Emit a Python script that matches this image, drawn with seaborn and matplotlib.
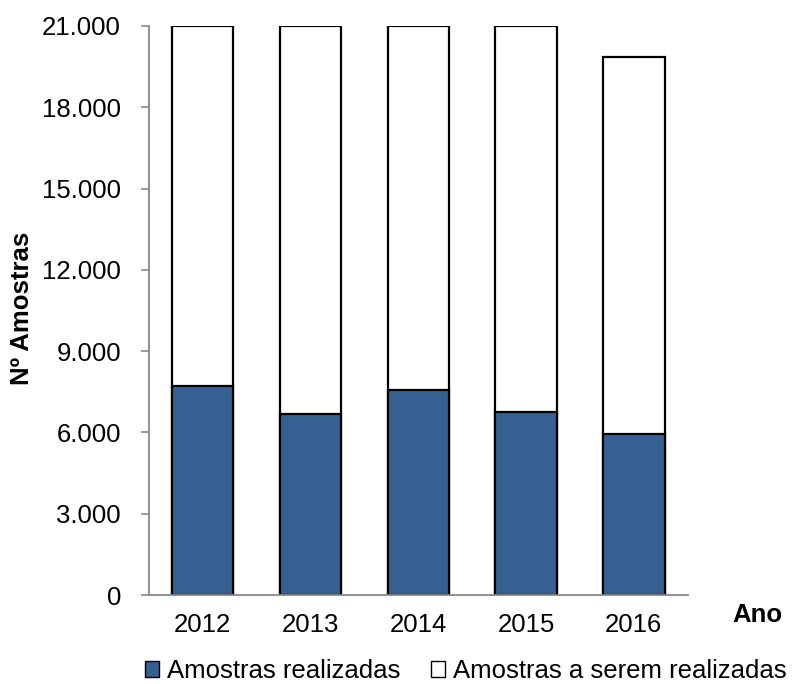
import seaborn as sns
import pandas as pd
import numpy as np
import matplotlib.pyplot as plt
from matplotlib.patches import Patch
from matplotlib.ticker import FuncFormatter

# Dados
anos = ["2012", "2013", "2014", "2015", "2016"]
realizadas = [7700, 6700, 7550, 6770, 5950]
a_realizar = [13300, 14300, 13450, 14230, 13900]

df = pd.DataFrame({"ano": anos, "realizadas": realizadas, "a_realizar": a_realizar})
df["total"] = df["realizadas"] + df["a_realizar"]

sns.set_style("white")
plt.rcParams["font.family"] = ["Liberation Sans", "DejaVu Sans"]
plt.rcParams["text.color"] = "black"
plt.rcParams["axes.labelcolor"] = "black"

azul = "#376092"
cinza = "#888888"
fs = 18.5

fig = plt.figure(figsize=(7.96, 6.84), dpi=100)
ax = fig.add_axes([0.187, 0.130, 0.677, 0.832])

# barra total (branca) e barra realizadas (azul) por cima
sns.barplot(data=df, x="ano", y="total", color="white", edgecolor="black",
            linewidth=1.6, width=0.57, saturation=1, ax=ax)
sns.barplot(data=df, x="ano", y="realizadas", color=azul, edgecolor="black",
            linewidth=1.6, width=0.57, saturation=1, ax=ax)

ax.set_ylim(0, 21000)
ax.set_xlim(-0.5, 4.5)
ax.set_yticks(np.arange(0, 21001, 3000))
ax.yaxis.set_major_formatter(FuncFormatter(lambda v, p: f"{int(v):,}".replace(",", ".")))
ax.tick_params(axis="y", labelsize=fs, length=6, width=1.2, color=cinza,
               labelcolor="black", direction="out", left=True, pad=14)
ax.tick_params(axis="x", labelsize=fs, length=0, pad=13, labelcolor="black")

for s in ["top", "right"]:
    ax.spines[s].set_visible(False)
for s in ["left", "bottom"]:
    ax.spines[s].set_color(cinza)
    ax.spines[s].set_linewidth(1.3)

ax.set_xlabel("")
ax.set_ylabel("Nº Amostras", fontsize=fs, fontweight="bold")
ax.yaxis.set_label_coords(-0.213, 0.504)

fig.text(757 / 796, 1 - 615 / 684, "Ano", fontsize=fs, fontweight="bold",
         ha="center", va="center")

handles = [Patch(facecolor=azul, edgecolor="black", linewidth=1, label="Amostras realizadas"),
           Patch(facecolor="white", edgecolor="black", linewidth=1, label="Amostras a serem realizadas")]
fig.legend(handles=handles, loc="center", bbox_to_anchor=(466 / 796, 1 - 671 / 684),
           ncol=2, frameon=False, fontsize=fs, handlelength=0.55, handleheight=0.55,
           handletextpad=0.3, columnspacing=1.2, borderaxespad=0, borderpad=0)

fig.savefig("out.png", dpi=100)
